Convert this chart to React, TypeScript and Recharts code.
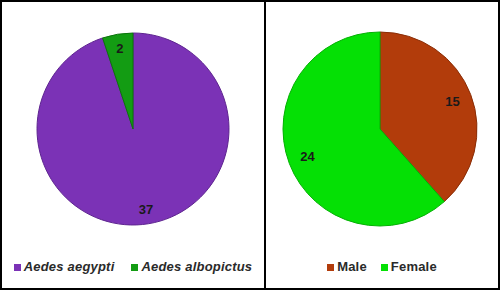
import { Cell, Legend, Pie, PieChart } from "recharts";

const speciesNames = ["Aedes aegypti", "Aedes albopictus"];
const speciesCounts = [37, 2];
const speciesColors = ["#7b32b6", "#139c13"];
const speciesEdges = ["#5e2490", "#0c740c"];

const sexNames = ["Male", "Female"];
const sexCounts = [15, 24];
const sexColors = ["#b23c0b", "#05e005"];
const sexEdges = ["#8a2d06", "#04b004"];

const speciesData = speciesNames.map((name, i) => ({ name, value: speciesCounts[i] }));
const sexData = sexNames.map((name, i) => ({ name, value: sexCounts[i] }));

const RADIAN = Math.PI / 180;
const FONT = "'Liberation Sans', Arial, sans-serif";

function makeLabel(ratio: number) {
  return (props: any) => {
    const { cx, cy, midAngle, outerRadius, value } = props;
    const r = outerRadius * ratio;
    const x = cx + r * Math.cos(-midAngle * RADIAN);
    const y = cy + r * Math.sin(-midAngle * RADIAN);
    return (
      <text
        x={x}
        y={y}
        fill="#1a1a1a"
        textAnchor="middle"
        dominantBaseline="central"
        fontSize={13}
        fontWeight="bold"
        fontFamily={FONT}
      >
        {value}
      </text>
    );
  };
}

// legend drawn from the names/colours lists, kept in data order
function makeLegend(names: string[], colors: string[], italic: boolean, gap: number) {
  return () => (
    <div style={{ display: "flex", justifyContent: "center", alignItems: "center" }}>
      {names.map((name, i) => (
        <div
          key={name}
          style={{ display: "flex", alignItems: "center", marginRight: i < names.length - 1 ? gap : 0 }}
        >
          <span style={{ width: 7, height: 7, background: colors[i], marginRight: 3, marginTop: 1 }} />
          <span
            style={{
              color: "#2a2a2a",
              fontStyle: italic ? "italic" : "normal",
              fontWeight: "bold",
              fontSize: 13,
              letterSpacing: 0.2,
              fontFamily: FONT,
            }}
          >
            {name}
          </span>
        </div>
      ))}
    </div>
  );
}

const boxStyle = {
  position: "absolute" as const,
  top: 0,
  height: 290,
  boxSizing: "border-box" as const,
  border: "2px solid #000",
};

export default function App() {
  return (
    <div style={{ position: "absolute", left: 0, top: 0, width: 500, height: 290, background: "#fff" }}>
      <div style={{ ...boxStyle, left: 0, width: 266 }}>
        <PieChart width={262} height={286} margin={{ top: 0, right: 0, bottom: 0, left: 0 }}>
          <Pie
            data={speciesData}
            dataKey="value"
            nameKey="name"
            cx={131}
            cy={127}
            outerRadius={96}
            startAngle={90}
            endAngle={-270}
            label={makeLabel(0.85)}
            labelLine={false}
            isAnimationActive={false}
          >
            {speciesData.map((d, i) => (
              <Cell key={d.name} fill={speciesColors[i]} stroke={speciesEdges[i]} strokeWidth={1} />
            ))}
          </Pie>
          <Legend
            content={makeLegend(speciesNames, speciesColors, true, 17)}
            wrapperStyle={{ top: 257, left: 0, width: 262 }}
          />
        </PieChart>
      </div>
      <div style={{ ...boxStyle, left: 264, width: 236 }}>
        <PieChart width={232} height={286} margin={{ top: 0, right: 0, bottom: 0, left: 0 }}>
          <Pie
            data={sexData}
            dataKey="value"
            nameKey="name"
            cx={114}
            cy={127}
            outerRadius={97}
            startAngle={90}
            endAngle={-270}
            label={makeLabel(0.8)}
            labelLine={false}
            isAnimationActive={false}
          >
            {sexData.map((d, i) => (
              <Cell key={d.name} fill={sexColors[i]} stroke={sexEdges[i]} strokeWidth={1} />
            ))}
          </Pie>
          <Legend
            content={makeLegend(sexNames, sexColors, false, 14)}
            wrapperStyle={{ top: 257, left: 0, width: 232 }}
          />
        </PieChart>
      </div>
    </div>
  );
}
